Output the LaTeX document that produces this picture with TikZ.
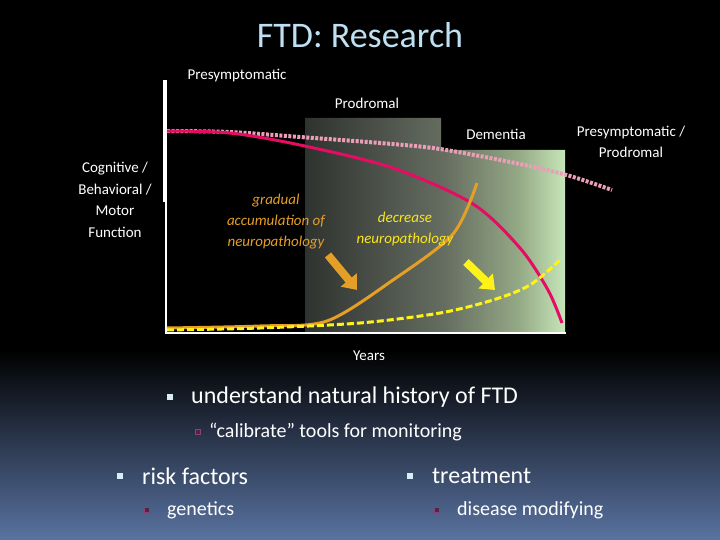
\documentclass[tikz,border=0pt]{standalone}
\usepackage{fontspec}
\setmainfont{Carlito}
\usetikzlibrary{arrows.meta}
\definecolor{zdark}{rgb}{0.22,0.24,0.22}
\definecolor{zgray}{rgb}{0.40,0.43,0.38}
\definecolor{zmid}{rgb}{0.58,0.66,0.52}
\definecolor{zlight}{rgb}{0.80,0.93,0.75}
\definecolor{ttl}{rgb}{0.75,0.88,0.95}
\definecolor{bgb}{rgb}{0.35,0.45,0.63}
\definecolor{mag}{rgb}{0.90,0.05,0.38}
\definecolor{pk}{rgb}{0.92,0.62,0.72}
\definecolor{org}{rgb}{0.90,0.62,0.15}
\definecolor{yl}{rgb}{1,0.95,0.1}
\definecolor{bul}{rgb}{0.55,0.25,0.45}
\pgfdeclarehorizontalshading{zone}{100bp}{color(0bp)=(black); color(30bp)=(zdark); color(52bp)=(zgray); color(66bp)=(zmid); color(76bp)=(zlight); color(100bp)=(zlight)}
\tikzset{
 lab/.style={text=white,font=\fontsize{15}{17}\selectfont,align=center,inner sep=0},
 big/.style={text=white,font=\fontsize{24}{28}\selectfont,anchor=west,inner sep=0},
 sub/.style={text=white,font=\fontsize{20}{24}\selectfont,anchor=west,inner sep=0},
 sq/.style={fill=ttl!60!white,minimum size=6pt,inner sep=0},
 hsq/.style={draw=bul,fill=bul!60!black,minimum size=5pt,inner sep=0,line width=0.8pt},
 itl/.style={font=\fontsize{15}{21}\selectfont\itshape,align=center,inner sep=0},
 barrow/.style={line width=8pt,-{Triangle[length=13pt,width=20pt]}}
}
\begin{document}
\begin{tikzpicture}[x=1pt,y=-1pt]
\useasboundingbox (0,0) rectangle (720,540);
\fill[black] (0,0) rectangle (720,540);
\shade[top color=black,bottom color=bgb] (0,350) rectangle (720,540);
\fill[shading=zone] (305,118)--(441,118)--(441,150)--(565,150)--(565,333)--(305,333)--cycle;
\draw[white,line width=2.5pt] (166,80)--(166,333)--(566,333);
\draw[white,line width=4pt] (165,80)--(165,202);
% curves
\draw[pk,line width=4pt,dash pattern=on 3pt off 1.5pt] plot[smooth] coordinates {(167,131)(230,132)(300,137)(380,143)(440,149)(520,164)(570,176)(612,190)};
\draw[mag,line width=3pt] plot[smooth] coordinates {(167,131)(230,133)(300,145)(393,168)(473,204)(520,248)(548,290)(562,323)};
\draw[org,line width=3pt] plot[smooth] coordinates {(167,328)(260,326)(327,321)(393,280)(453,234)(477,183)};
\draw[yl,line width=3pt,dash pattern=on 7pt off 3pt] plot[smooth] coordinates {(167,330)(260,328)(360,323)(440,313)(493,300)(530,285)(560,260)};
\draw[org,barrow] (328,255)--(357,290);
\draw[yl,barrow] (466,262)--(495,290);
% texts
\node[text=ttl,font=\fontsize{36}{40}\selectfont] (t) at (360,35) {FTD: Research};
\node[lab] (pre) at (237,76) {Presymptomatic};
\node[lab] (pro) at (367,103) {Prodromal};
\node[lab] (dem) at (496,134) {Dementia};
\node[lab,font=\fontsize{15}{21}\selectfont] (pp) at (631,142) {Presymptomatic /\\Prodromal};
\node[lab,font=\fontsize{15}{21.5}\selectfont] (cog) at (115,200) {Cognitive /\\Behavioral /\\Motor\\Function};
\node[lab] (yr) at (369,356) {Years};
\node[itl,text=org] (g) at (276,222) {gradual\\accumulation of\\neuropathology};
\node[itl,text=yl!85!org] (d) at (405,229) {decrease\\neuropathology};
% bullets
\node[sq] (b1) at (170,397) {};
\node[big] (u) at (191,397) {understand natural history of FTD};
\node[hsq] (b2) at (198,432) {};
\node[sub] (c) at (209,432) {“calibrate” tools for monitoring};
\node[sq] (b3) at (120,476) {};
\node[big] (r) at (142,476) {risk factors};
\node[hsq] (b4) at (147,510) {};
\node[sub] (ge) at (167,510) {genetics};
\node[sq] (b5) at (410,476) {};
\node[big] (tr) at (432,476) {treatment};
\node[hsq] (b6) at (437,510) {};
\node[sub] (dm) at (457,510) {disease modifying};
\end{tikzpicture}
\end{document}
